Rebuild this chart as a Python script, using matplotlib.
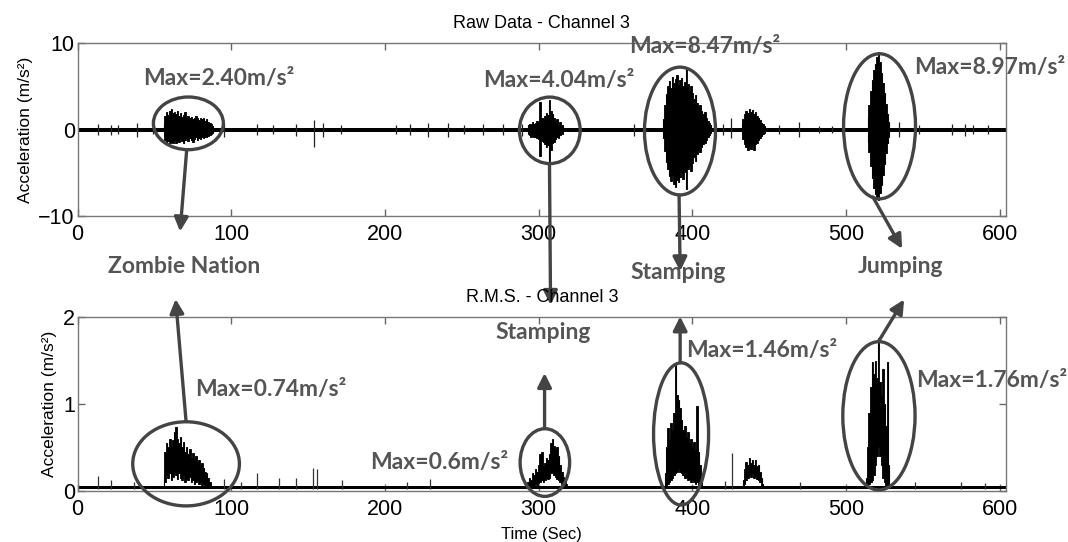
import numpy as np
import matplotlib
matplotlib.use("Agg")
import matplotlib.pyplot as plt
from matplotlib.patches import Ellipse

# ---- raw data (channel 3), envelopes, 1 s steps ----
raw_floor = 0.22

zn_t0 = 56
zn_up = [0.8, 1.6, 2.0, 1.7, 2.2, 2.4, 1.9, 2.1, 1.8, 2.2, 1.6, 1.9, 1.5, 1.7, 2.0, 1.4, 1.6,
         1.3, 1.5, 1.2, 1.4, 1.6, 1.3, 1.1, 1.4, 1.2, 1.3, 1.0, 1.2, 0.9, 0.8, 0.6, 0.4]
zn_dn = [-0.7, -1.2, -1.5, -1.3, -1.6, -1.4, -1.5, -1.2, -1.6, -1.3, -1.4, -1.1, -1.3, -1.5, -1.2, -1.1, -1.3,
         -1.0, -1.2, -1.4, -1.1, -0.9, -1.2, -1.0, -1.1, -0.9, -1.0, -0.8, -0.9, -0.7, -0.6, -0.5, -0.4]

st1_t0 = 293
st1_up = [0.5, 0.7, 0.6, 0.9, 0.7, 0.8, 1.0, 0.9, 3.2, 1.4, 1.2, 1.6, 1.9, 1.7, 3.4, 2.2, 1.8, 1.3, 1.0, 1.2, 0.7, 0.9, 0.5, 0.4]
st1_dn = [-0.5, -0.6, -0.8, -0.7, -0.9, -0.8, -1.0, -1.1, -3.0, -1.3, -1.4, -1.7, -2.0, -1.8, -3.6, -2.3, -1.6, -1.4, -1.1, -0.9, -1.0, -0.6, -0.5, -0.4]

st2_t0 = 381
st2_up = [1.2, 2.8, 4.1, 5.0, 5.6, 4.8, 6.1, 5.4, 5.9, 6.3, 5.2, 5.8, 6.0, 5.1, 5.5, 7.0,
          5.3, 4.6, 5.0, 4.2, 3.6, 4.0, 3.1, 2.6, 2.9, 2.2, 1.8, 2.0, 1.4, 1.0, 0.8, 0.5]
st2_dn = [-1.0, -2.5, -3.8, -4.6, -5.4, -5.9, -5.2, -6.3, -6.6, -5.8, -6.1, -5.5, -5.0, -5.7, -4.9, -6.9,
          -4.6, -4.2, -4.8, -3.9, -3.2, -3.6, -2.8, -2.4, -2.6, -2.0, -1.7, -1.5, -1.2, -0.9, -0.6, -0.4]

sm_t0 = 432
sm_up = [0.6, 1.2, 1.8, 2.2, 1.9, 2.4, 2.0, 2.3, 1.8, 2.1, 1.6, 1.4, 1.1, 0.8, 0.6, 0.4]
sm_dn = [-0.6, -1.1, -1.7, -2.0, -2.4, -1.9, -2.2, -1.8, -2.3, -1.7, -1.5, -1.2, -1.0, -0.7, -0.5, -0.4]

jp_t0 = 514
jp_up = [1.5, 2.8, 4.5, 5.8, 6.9, 7.6, 8.4, 9.0, 7.8, 6.6, 5.4, 4.3, 3.0, 1.8, 0.9]
jp_dn = [-1.4, -2.6, -4.2, -5.6, -6.8, -7.5, -7.8, -8.2, -7.3, -6.4, -5.2, -4.0, -2.7, -1.6, -0.8]

raw_spike_t = [13, 22, 26, 39, 49, 95.5, 117, 127, 142, 154, 159.5, 171.5, 207, 216, 228, 241, 251.5,
               263.6, 277, 289, 362, 368.6, 420, 425, 456, 469.5, 482, 491, 534.5, 547.5, 569, 577, 582.4, 592]
raw_spike_up = [0.6, 0.5, 0.5, 0.8, 0.5, 0.8, 0.6, 0.5, 0.7, 1.1, 0.8, 0.5, 0.5, 0.6, 0.8, 0.8, 0.5,
                0.6, 0.6, 0.7, 0.7, 0.5, 0.6, 1.3, 0.5, 0.9, 0.4, 0.4, 0.9, 0.5, 0.6, 0.7, 0.5, 0.5]
raw_spike_dn = [-0.6, -0.6, -0.5, -0.8, -0.5, -0.9, -0.6, -0.5, -0.7, -2.0, -0.8, -0.5, -0.5, -0.6, -0.8, -0.8, -0.5,
                -0.6, -0.6, -0.7, -0.7, -0.5, -0.6, -1.0, -0.5, -0.9, -0.4, -0.4, -0.9, -0.5, -0.6, -0.7, -0.5, -0.5]

# ---- R.M.S. (channel 3) ----
rms_floor = (0.015, 0.055)

zn_rms_t0 = 56
zn_rms_hi = [0.15, 0.45, 0.55, 0.5, 0.6, 0.52, 0.58, 0.68, 0.74, 0.6, 0.55, 0.62, 0.5, 0.56, 0.45, 0.5,
             0.42, 0.48, 0.38, 0.44, 0.36, 0.4, 0.33, 0.36, 0.3, 0.32, 0.26, 0.22, 0.2, 0.15, 0.1, 0.06]
zn_rms_lo = [0.04, 0.1, 0.18, 0.15, 0.2, 0.12, 0.16, 0.22, 0.18, 0.14, 0.2, 0.15, 0.12, 0.18, 0.1, 0.14,
             0.12, 0.16, 0.1, 0.12, 0.08, 0.1, 0.12, 0.08, 0.1, 0.07, 0.08, 0.06, 0.05, 0.05, 0.04, 0.03]

st1_rms_t0 = 292
st1_rms_hi = [0.06, 0.1, 0.15, 0.12, 0.2, 0.18, 0.25, 0.22, 0.3, 0.42, 0.45, 0.28, 0.32, 0.38,
              0.35, 0.42, 0.55, 0.6, 0.52, 0.48, 0.5, 0.4, 0.3, 0.22, 0.16, 0.12, 0.08, 0.06]
st1_rms_lo = [0.03, 0.04, 0.05, 0.05, 0.06, 0.06, 0.08, 0.07, 0.09, 0.1, 0.12, 0.1, 0.12, 0.15,
              0.14, 0.15, 0.2, 0.22, 0.18, 0.16, 0.14, 0.12, 0.1, 0.08, 0.06, 0.05, 0.04, 0.03]

st2_rms_t0 = 382
st2_rms_hi = [0.2, 0.5, 0.72, 0.6, 0.78, 0.7, 0.9, 1.46, 1.1, 1.05, 0.95, 0.82, 0.7, 0.75, 0.62,
              0.68, 0.55, 0.6, 0.5, 0.56, 0.48, 0.98, 0.45, 0.3, 0.12]
st2_rms_lo = [0.04, 0.06, 0.08, 0.1, 0.12, 0.15, 0.18, 0.2, 0.22, 0.25, 0.22, 0.2, 0.18, 0.15, 0.16,
              0.12, 0.14, 0.1, 0.12, 0.1, 0.08, 0.1, 0.07, 0.05, 0.04]

sm_rms_t0 = 433
sm_rms_hi = [0.12, 0.25, 0.33, 0.3, 0.38, 0.32, 0.35, 0.3, 0.36, 0.28, 0.3, 0.22, 0.15, 0.08]
sm_rms_lo = [0.04, 0.08, 0.12, 0.15, 0.18, 0.16, 0.2, 0.15, 0.17, 0.14, 0.12, 0.1, 0.06, 0.04]

jp_rms_t0 = 513
jp_rms_hi = [0.15, 0.5, 0.9, 1.2, 1.49, 1.35, 1.5, 1.3, 1.76, 1.25, 1.1, 1.4, 1.0, 0.75, 1.49, 0.3]
jp_rms_lo = [0.03, 0.05, 0.08, 0.1, 0.12, 0.18, 0.3, 0.4, 0.5, 0.4, 0.3, 0.15, 0.1, 0.07, 0.05, 0.03]

rms_spike_t = [13.4, 22, 37, 95, 106.5, 116.5, 131, 142, 153, 156, 172, 214, 229.5, 421, 425.7, 469.7, 545, 575, 590]
rms_spike_h = [0.17, 0.12, 0.1, 0.14, 0.1, 0.2, 0.15, 0.15, 0.26, 0.25, 0.12, 0.1, 0.13, 0.11, 0.43, 0.1, 0.1, 0.1, 0.09]

x_ticks = [0, 100, 200, 300, 400, 500, 600]

plt.rcParams['font.family'] = ['Liberation Sans', 'DejaVu Sans']
ANN = dict(family=['Lato', 'DejaVu Sans'], weight='bold', color='#555555', fontsize=16.5)
EDGE = '#444444'

fig = plt.figure(figsize=(10.68, 5.42), dpi=100)
ax1 = fig.add_axes([0.0726, 0.6015, 0.8694, 0.3186])
ax2 = fig.add_axes([0.0726, 0.0946, 0.8694, 0.3200])


def burst(ax, t0, lo, hi):
    t = t0 + np.arange(len(hi))
    ax.fill_between(t, lo, hi, step='mid', color='black', lw=0.6, ec='black', zorder=2)
    ax.vlines(t, lo, hi, color='black', lw=0.8, zorder=2)


# top panel
ax1.fill_between([0, 604], -raw_floor, raw_floor, color='black', lw=0, zorder=2)
ax1.vlines(raw_spike_t, raw_spike_dn, raw_spike_up, color='#222222', lw=0.9, zorder=2)
for t0, up, dn in [(zn_t0, zn_up, zn_dn), (st1_t0, st1_up, st1_dn), (st2_t0, st2_up, st2_dn),
                   (sm_t0, sm_up, sm_dn), (jp_t0, jp_up, jp_dn)]:
    burst(ax1, t0, dn, up)
ax1.set_ylim(-10, 10)
ax1.set_yticks([-10, 0, 10])
ax1.set_title('Raw Data - Channel 3', fontsize=13, pad=11)

# bottom panel
ax2.fill_between([0, 604], rms_floor[0], rms_floor[1], color='black', lw=0, zorder=2)
ax2.vlines(rms_spike_t, 0.02, rms_spike_h, color='#333333', lw=0.9, zorder=2)
for t0, hi, lo in [(zn_rms_t0, zn_rms_hi, zn_rms_lo), (st1_rms_t0, st1_rms_hi, st1_rms_lo),
                   (st2_rms_t0, st2_rms_hi, st2_rms_lo), (sm_rms_t0, sm_rms_hi, sm_rms_lo),
                   (jp_rms_t0, jp_rms_hi, jp_rms_lo)]:
    burst(ax2, t0, lo, hi)
ax2.set_ylim(0, 2)
ax2.set_yticks([0, 1, 2])
ax2.set_title('R.M.S. - Channel 3', fontsize=13, pad=11)
ax2.set_xlabel('Time (Sec)', fontsize=12, labelpad=5)

for ax in (ax1, ax2):
    ax.set_xlim(0, 604)
    ax.set_xticks(x_ticks)
    ax.set_ylabel('Acceleration (m/s²)', fontsize=12.5)
    ax.tick_params(direction='in', length=5, width=1, top=True, right=True,
                   labelsize=15.5, color='#666666')
    ax.tick_params(axis='x', pad=6)
    ax.tick_params(axis='y', pad=2)
    for s in ax.spines.values():
        s.set_color('#777777')
        s.set_linewidth(1)

# ellipses
for ax, cx, cy, w, h in [(ax1, 72.1, 0.73, 45.5, 6.1), (ax1, 307.2, -0.08, 39.5, 7.7),
                         (ax1, 391.9, -0.16, 46.2, 14.8), (ax1, 521.7, 0.39, 46.8, 16.8),
                         (ax2, 70.6, 0.31, 69.4, 0.97), (ax2, 304, 0.325, 32.2, 0.78),
                         (ax2, 392.6, 0.655, 35.8, 1.64), (ax2, 521.3, 0.864, 47, 1.71)]:
    ax.add_patch(Ellipse((cx, cy), w, h, fill=False, ec=EDGE, lw=2.4, clip_on=False, zorder=4))

# arrows
arrow = dict(arrowstyle='-|>,head_length=0.7,head_width=0.35', color=EDGE, lw=2.4,
             mutation_scale=12, shrinkA=0, shrinkB=0)
for ax, tail, head in [(ax1, (71.0, -2.36), (66.7, -11.8)), (ax2, (70.6, 0.80), (63.8, 2.21)),
                       (ax1, (307.0, -3.95), (307.7, -20.3)), (ax2, (303.8, 0.717), (303.8, 1.357)),
                       (ax1, (391.3, -7.6), (392.0, -16.4)), (ax2, (392.0, 1.476), (392.0, 2.01)),
                       (ax1, (517.4, -7.8), (536.4, -13.8)), (ax2, (521.0, 1.72), (537.7, 2.205))]:
    ax.annotate('', xy=head, xytext=tail, arrowprops=arrow, annotation_clip=False, zorder=5)

# labels
ax1.text(69.3, -15.9, 'Zombie Nation', ha='center', va='center', clip_on=False, **ANN)
ax1.text(390.7, -16.5, 'Stamping', ha='center', va='center', clip_on=False, **ANN)
ax1.text(535.1, -15.9, 'Jumping', ha='center', va='center', clip_on=False, **ANN)
ax2.text(302.9, 1.819, 'Stamping', ha='center', va='center', clip_on=False, **ANN)

for ax, x, y, s in [(ax1, 42.6, 5.98, 'Max=2.40m/s²'), (ax1, 263.6, 5.7, 'Max=4.04m/s²'),
                    (ax1, 359.1, 9.64, 'Max=8.47m/s²'), (ax1, 544.2, 7.19, 'Max=8.97m/s²'),
                    (ax2, 76.2, 1.167, 'Max=0.74m/s²'), (ax2, 190.3, 0.331, 'Max=0.6m/s²'),
                    (ax2, 395.9, 1.617, 'Max=1.46m/s²'), (ax2, 545.5, 1.276, 'Max=1.76m/s²')]:
    ax.text(x, y, s, ha='left', va='center', clip_on=False, zorder=6, **ANN)

fig.savefig('out.png', dpi=100)
